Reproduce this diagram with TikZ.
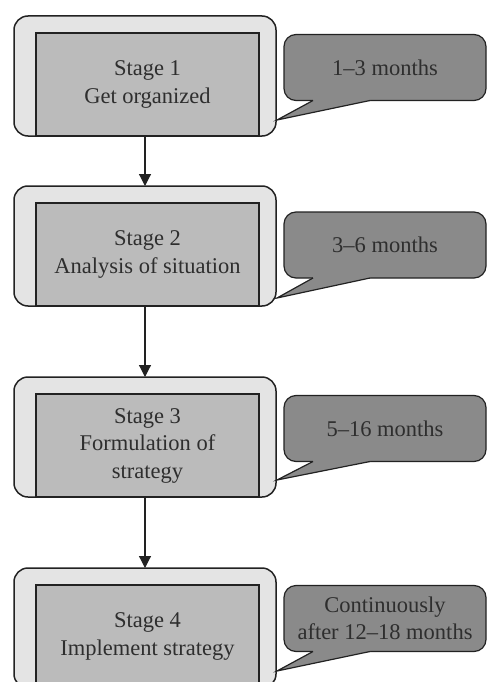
\documentclass[tikz,border=0pt]{standalone}
\usepackage{fontspec}
\setmainfont{Liberation Serif}
\usetikzlibrary{arrows.meta,calc}
\definecolor{outerfill}{HTML}{E4E4E4}
\definecolor{innerfill}{HTML}{BBBBBB}
\definecolor{callfill}{HTML}{8A8A8A}
\definecolor{ink}{HTML}{222222}
\definecolor{txt}{HTML}{2E2E2E}

\begin{document}
\begin{tikzpicture}[x=1pt,y=-1pt,
  every node/.style={outer sep=0pt, inner sep=0pt},
  labelfont/.style={font=\fontsize{22.5}{27.5}\selectfont},
  outerbox/.style={draw=ink, line width=1.5pt, fill=outerfill,
    rounded corners=14pt, minimum width=262pt, minimum height=120pt},
  stagebox/.style={draw=ink, line width=1.5pt, fill=innerfill,
    minimum width=223pt, minimum height=103pt, text=txt, align=center, labelfont},
  callbox/.style={draw=ink, line width=1.2pt, fill=callfill,
    rounded corners=12pt, minimum width=202pt, minimum height=66pt,
    text=txt, align=center, labelfont},
  pointerline/.style={draw=ink, line width=1.2pt, line join=miter},
  flow/.style={draw=ink, line width=1.2pt, -{Triangle[width=12pt,length=12pt]}},
]
\useasboundingbox (0,0) rectangle (487,682);
\clip (0,0) rectangle (487,682);

% stage frames (light rounded frame with the darker panel inside)
\node[outerbox] (o1) at (145,76)  {};
\node[outerbox] (o2) at (145,246) {};
\node[outerbox] (o3) at (145,437) {};
\node[outerbox] (o4) at (145,628) {};

\node[stagebox] (s1) at (147.5,84.5)  {Stage 1\\Get organized};
\node[stagebox] (s2) at (147.5,254.5) {Stage 2\\Analysis of situation};
\node[stagebox] (s3) at (147.5,445.5) {Stage 3\\Formulation of\\strategy};
\node[stagebox] (s4) at (147.5,636.5) {Stage 4\\Implement strategy};

% duration callouts
\node[callbox] (c1) at (385,67.5)  {1--3 months};
\node[callbox] (c2) at (385,245)   {3--6 months};
\node[callbox] (c3) at (385,428.5) {5--16 months};
\node[callbox] (c4) at (385,618.5) {Continuously\\after 12--18 months};

% callout pointers towards the stage frames
\coordinate (p1) at (277,120);
\coordinate (p2) at (277,298);
\coordinate (p3) at (277,480);
\coordinate (p4) at (277,671);
\foreach \k in {1,2,3,4}{
  \fill[callfill] ($(c\k.south west)+(29,-2.5)$) -- ($(c\k.south west)+(29,0)$)
    -- (p\k) -- ($(c\k.south west)+(86,0)$) -- ($(c\k.south west)+(86,-2.5)$) -- cycle;
  \draw[pointerline] ($(c\k.south west)+(29,0)$) -- (p\k) -- ($(c\k.south west)+(86,0)$);
}

% flow between stages
\draw[flow] (o1.south) -- (o2.north);
\draw[flow] (o2.south) -- (o3.north);
\draw[flow] (o3.south) -- (o4.north);
\end{tikzpicture}
\end{document}
